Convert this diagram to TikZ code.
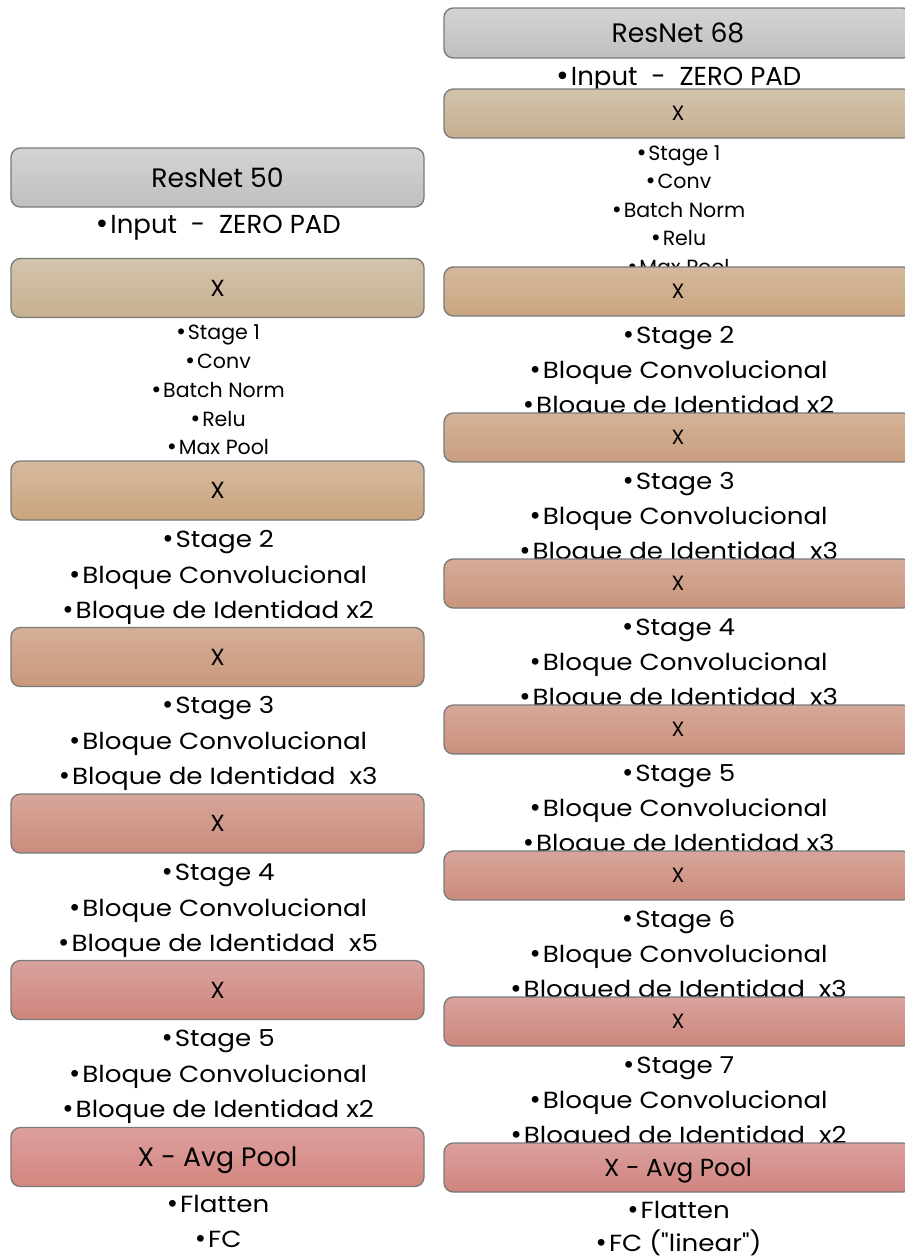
\documentclass[tikz,border=0pt]{standalone}
\usepackage{fontspec}
\setmainfont{Poppins}
\newfontfamily\widefont{Poppins}[FakeStretch=1.12]
\newfontfamily\dotfont{DejaVu Sans}

% box edge and gradient colours (top / bottom)
\definecolor{boxedge}{HTML}{7A7A7A}
\definecolor{grayT}{HTML}{D4D4D4}\definecolor{grayB}{HTML}{BFBFBF}
\definecolor{lAT}{HTML}{D3C4AD}\definecolor{lAB}{HTML}{C7B08F}
\definecolor{lBT}{HTML}{D6BA9D}\definecolor{lBB}{HTML}{CAA47E}
\definecolor{lCT}{HTML}{D5AF98}\definecolor{lCB}{HTML}{C9987B}
\definecolor{lDT}{HTML}{D7A79A}\definecolor{lDB}{HTML}{CB8C7C}
\definecolor{lET}{HTML}{D9A39D}\definecolor{lEB}{HTML}{CE857C}
\definecolor{lFT}{HTML}{DDA09E}\definecolor{lFB}{HTML}{D4857F}
\definecolor{rAT}{HTML}{D2C4AD}\definecolor{rAB}{HTML}{C5AE8F}
\definecolor{rBT}{HTML}{D5B99C}\definecolor{rBB}{HTML}{C9A57F}
\definecolor{rCT}{HTML}{D5B398}\definecolor{rCB}{HTML}{C99E7F}
\definecolor{rDT}{HTML}{D5AB98}\definecolor{rDB}{HTML}{C9957D}
\definecolor{rET}{HTML}{D6A899}\definecolor{rEB}{HTML}{CA907D}
\definecolor{rFT}{HTML}{D7A59A}\definecolor{rFB}{HTML}{CC8B7C}
\definecolor{rGT}{HTML}{D8A29C}\definecolor{rGB}{HTML}{CD877D}
\definecolor{rHT}{HTML}{DBA09D}\definecolor{rHB}{HTML}{D0847F}

% bulleted line of text
\newcommand{\itm}[1]{{\dotfont •}\kern0.6pt #1}

\tikzset{
  every node/.style={inner sep=0pt, outer sep=0pt},
  grad/.style 2 args={top color=#1, bottom color=#2},
  blockbox/.style={draw=boxedge, line width=1pt, rounded corners=7pt, text depth=0pt},
  leftbox/.style={blockbox, minimum width=309.75pt, minimum height=44.25pt,
                  font=\fontsize{17.5}{20}\selectfont},
  rightbox/.style={blockbox, minimum width=351pt, minimum height=36.75pt,
                   font=\fontsize{15.5}{18}\selectfont},
  headfont/.style={font=\fontsize{20}{24}\selectfont},
  bigline/.style={anchor=base, font=\fontsize{19.5}{22}\selectfont},
  listline/.style={anchor=base, font=\widefont\fontsize{17.5}{20}\selectfont},
  smallline/.style={anchor=base, font=\fontsize{15.4}{18}\selectfont},
}

\begin{document}
\begin{tikzpicture}[x=0.75pt,y=-0.75pt]
\useasboundingbox (0,0) rectangle (905,1258);
\clip (0,0) rectangle (905,1258);

% ---------------- ResNet 50 (left column) ----------------
\node[bigline] (l-input) at (217.5,233) {\itm{Input\ \ -\ \ ZERO PAD}};
\node[smallline] (l-s1a) at (217.5,339) {\itm{Stage 1}};
\node[smallline] (l-s1b) at (217.5,368) {\itm{Conv}};
\node[smallline] (l-s1c) at (217.5,397) {\itm{Batch Norm}};
\node[smallline] (l-s1d) at (217.5,426) {\itm{Relu}};
\node[smallline] (l-s1e) at (217.5,454) {\itm{Max Pool}};

\node[listline] (l-s2a) at (217.5,547) {\itm{Stage 2}};
\node[listline] (l-s2b) at (217.5,583) {\itm{Bloque Convolucional}};
\node[listline] (l-s2c) at (217.5,618) {\itm{Bloque de Identidad x2}};

\node[listline] (l-s3a) at (217.5,713.5) {\itm{Stage 3}};
\node[listline] (l-s3b) at (217.5,749.5) {\itm{Bloque Convolucional}};
\node[listline] (l-s3c) at (217.5,784.5) {\itm{Bloque de Identidad\ \ x3}};

\node[listline] (l-s4a) at (217.5,880) {\itm{Stage 4}};
\node[listline] (l-s4b) at (217.5,916) {\itm{Bloque Convolucional}};
\node[listline] (l-s4c) at (217.5,951) {\itm{Bloque de Identidad\ \ x5}};

\node[listline] (l-s5a) at (217.5,1046.5) {\itm{Stage 5}};
\node[listline] (l-s5b) at (217.5,1082.5) {\itm{Bloque Convolucional}};
\node[listline] (l-s5c) at (217.5,1117.5) {\itm{Bloque de Identidad x2}};

\node[listline] (l-flat) at (217.5,1212) {\itm{Flatten}};
\node[listline] (l-fc) at (217.5,1247) {\itm{FC}};

\node[leftbox, grad={grayT}{grayB}, headfont] (l-head) at (217.5,177.5) {ResNet 50};
\node[leftbox, grad={lAT}{lAB}] (l-x1) at (217.5,288) {X};
\node[leftbox, grad={lBT}{lBB}] (l-x2) at (217.5,490.5) {X};
\node[leftbox, grad={lCT}{lCB}] (l-x3) at (217.5,657) {X};
\node[leftbox, grad={lDT}{lDB}] (l-x4) at (217.5,823.5) {X};
\node[leftbox, grad={lET}{lEB}] (l-x5) at (217.5,990) {X};
\node[leftbox, grad={lFT}{lFB}, headfont] (l-avg) at (217.5,1157) {X - Avg Pool};

% ---------------- ResNet 68 (right column) ----------------
\node[bigline] (r-input) at (678,85) {\itm{Input\ \ -\ \ ZERO PAD}};
\node[smallline] (r-s1a) at (678,160) {\itm{Stage 1}};
\node[smallline] (r-s1b) at (678,188.5) {\itm{Conv}};
\node[smallline] (r-s1c) at (678,217) {\itm{Batch Norm}};
\node[smallline] (r-s1d) at (678,245.5) {\itm{Relu}};
\node[smallline] (r-s1e) at (678,274) {\itm{Max Pool}};

\node[listline] (r-s2a) at (678,343) {\itm{Stage 2}};
\node[listline] (r-s2b) at (678,378) {\itm{Bloque Convolucional}};
\node[listline] (r-s2c) at (678,413) {\itm{Bloque de Identidad x2}};

\node[listline] (r-s3a) at (678,489) {\itm{Stage 3}};
\node[listline] (r-s3b) at (678,524) {\itm{Bloque Convolucional}};
\node[listline] (r-s3c) at (678,559) {\itm{Bloque de Identidad\ \ x3}};

\node[listline] (r-s4a) at (678,635) {\itm{Stage 4}};
\node[listline] (r-s4b) at (678,670) {\itm{Bloque Convolucional}};
\node[listline] (r-s4c) at (678,705) {\itm{Bloque de Identidad\ \ x3}};

\node[listline] (r-s5a) at (678,781) {\itm{Stage 5}};
\node[listline] (r-s5b) at (678,816) {\itm{Bloque Convolucional}};
\node[listline] (r-s5c) at (678,851) {\itm{Bloque de Identidad x3}};

\node[listline] (r-s6a) at (678,927) {\itm{Stage 6}};
\node[listline] (r-s6b) at (678,962) {\itm{Bloque Convolucional}};
\node[listline] (r-s6c) at (678,997) {\itm{Bloqued de Identidad\ \ x3}};

\node[listline] (r-s7a) at (678,1073) {\itm{Stage 7}};
\node[listline] (r-s7b) at (678,1108) {\itm{Bloque Convolucional}};
\node[listline] (r-s7c) at (678,1143) {\itm{Bloqued de Identidad\ \ x2}};

\node[listline] (r-flat) at (678,1218) {\itm{Flatten}};
\node[listline] (r-fc) at (678,1251) {\itm{FC ("linear")}};

\node[rightbox, grad={grayT}{grayB}, headfont, minimum height=37.5pt] (r-head) at (678,33) {ResNet 68};
\node[rightbox, grad={rAT}{rAB}] (r-x1) at (678,113.5) {X};
\node[rightbox, grad={rBT}{rBB}] (r-x2) at (678,291.5) {X};
\node[rightbox, grad={rCT}{rCB}] (r-x3) at (678,437.5) {X};
\node[rightbox, grad={rDT}{rDB}] (r-x4) at (678,583.5) {X};
\node[rightbox, grad={rET}{rEB}] (r-x5) at (678,729.5) {X};
\node[rightbox, grad={rFT}{rFB}] (r-x6) at (678,875.5) {X};
\node[rightbox, grad={rGT}{rGB}] (r-x7) at (678,1021.5) {X};
\node[rightbox, grad={rHT}{rHB}, font=\fontsize{18.5}{20}\selectfont] (r-avg) at (678,1167.5) {X - Avg Pool};
\end{tikzpicture}
\end{document}
